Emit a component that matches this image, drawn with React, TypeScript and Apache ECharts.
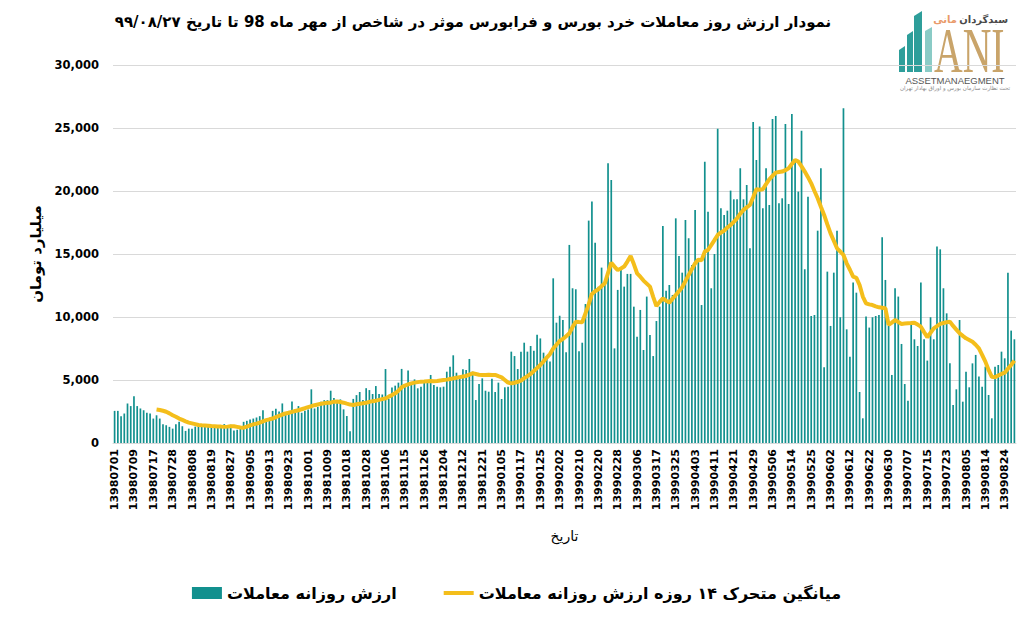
import React, { useEffect, useRef } from "react";
import * as echarts from "echarts";

const categories: string[] = [
  "13980701","13980702","13980703","13980706","13980707","13980708","13980709","13980710","13980713","13980714",
  "13980715","13980716","13980717","13980720","13980721","13980722","13980723","13980724","13980728","13980729",
  "13980730","13980801","13980804","13980806","13980808","13980811","13980812","13980813","13980814","13980818",
  "13980819","13980820","13980821","13980822","13980825","13980826","13980827","13980828","13980829","13980902",
  "13980903","13980904","13980905","13980906","13980909","13980910","13980911","13980912","13980913","13980916",
  "13980917","13980918","13980919","13980920","13980923","13980924","13980925","13980926","13980927","13980930",
  "13981001","13981002","13981003","13981004","13981007","13981008","13981009","13981010","13981011","13981014",
  "13981015","13981017","13981018","13981021","13981022","13981023","13981024","13981025","13981028","13981029",
  "13981030","13981101","13981102","13981105","13981106","13981107","13981108","13981109","13981112","13981114",
  "13981115","13981116","13981119","13981120","13981121","13981123","13981126","13981127","13981128","13981129",
  "13981130","13981203","13981204","13981205","13981206","13981207","13981210","13981211","13981212","13981213",
  "13981214","13981217","13981219","13981220","13981221","13981224","13981225","13981226","13981227","13981228",
  "13990105","13990106","13990109","13990110","13990111","13990116","13990117","13990118","13990119","13990120",
  "13990123","13990124","13990125","13990126","13990127","13990130","13990131","13990201","13990202","13990203",
  "13990206","13990207","13990208","13990209","13990210","13990213","13990214","13990215","13990216","13990217",
  "13990220","13990221","13990222","13990223","13990224","13990227","13990228","13990229","13990230","13990231",
  "13990303","13990305","13990306","13990307","13990310","13990311","13990312","13990313","13990317","13990318",
  "13990319","13990320","13990321","13990324","13990325","13990326","13990327","13990328","13990331","13990401",
  "13990403","13990404","13990407","13990408","13990409","13990410","13990411","13990414","13990415","13990416",
  "13990417","13990418","13990421","13990422","13990423","13990424","13990425","13990428","13990429","13990430",
  "13990431","13990501","13990504","13990505","13990506","13990507","13990508","13990511","13990512","13990513",
  "13990514","13990515","13990519","13990520","13990521","13990522","13990525","13990526","13990527","13990528",
  "13990529","13990601","13990602","13990603","13990604","13990605","13990610","13990611","13990612","13990615",
  "13990616","13990617","13990618","13990619","13990622","13990623","13990624","13990625","13990626","13990629",
  "13990630","13990631","13990701","13990702","13990705","13990706","13990707","13990708","13990709","13990712",
  "13990713","13990714","13990715","13990716","13990719","13990720","13990721","13990722","13990723","13990727",
  "13990728","13990729","13990730","13990803","13990805","13990806","13990807","13990810","13990811","13990812",
  "13990814","13990817","13990818","13990819","13990820","13990821","13990824","13990825","13990826","13990827",
];

// daily trading value (billion toman)
const dailyValue: number[] = [
  2550, 2550, 2130, 2340, 3140, 2930, 3720, 2930, 2740, 2600,
  2400, 2340, 1940, 2200, 1940, 1490, 1410, 1280, 1140, 1490,
  1680, 1330, 960, 1140, 1140, 1300, 1350, 1400, 1380, 1420,
  1350, 1400, 1300, 1420, 1500, 1380, 1450, 1000, 1050, 1350,
  1680, 1760, 1860, 1940, 2020, 2130, 2600, 1860, 1940, 2550,
  2710, 2500, 3140, 2290, 2550, 3300, 2660, 2930, 2400, 2550,
  2660, 4260, 2740, 2870, 3270, 3400, 3400, 4150, 3580, 3200,
  3460, 2670, 2140, 930, 3500, 3800, 4050, 3420, 4350, 4200,
  3890, 4520, 3890, 3850, 5870, 3500, 4400, 4550, 4790, 5880,
  4500, 5760, 4720, 5050, 4340, 4470, 4790, 5000, 5400, 4600,
  4470, 4420, 4470, 5660, 6060, 6960, 5580, 5320, 5850, 5790,
  6670, 5660, 3410, 4680, 5130, 4150, 4070, 5100, 4050, 4790,
  3490, 4420, 4470, 7250, 6900, 5870, 7250, 7960, 7250, 7700,
  7330, 8600, 8300, 7170, 6900, 6460, 13070, 9550, 10100, 9760,
  7200, 15720, 12280, 12200, 7280, 7960, 11030, 17650, 19160, 15900,
  12400, 13920, 12670, 22200, 20880, 7510, 12150, 13790, 12410, 13420,
  13420, 10820, 8440, 10560, 7380, 11620, 8570, 6900, 9680, 10820,
  17230, 12090, 12540, 11750, 17830, 14840, 13520, 17700, 16250, 14130,
  18500, 14530, 10950, 22330, 18360, 12280, 15000, 24950, 18630, 18100,
  18440, 20030, 19340, 19340, 21800, 19340, 20480, 15450, 25480, 22460,
  25110, 18630, 21800, 18890, 25720, 25960, 19020, 19420, 25320, 18970,
  26120, 22410, 19950, 24790, 13790, 19550, 10080, 10160, 16850, 21800,
  6010, 13600, 9290, 13520, 16850, 9980, 26570, 9020, 6850, 12730,
  11930, 4050, 1960, 10030, 9160, 9980, 10080, 10160, 16330, 12940,
  9290, 5400, 12280, 11620, 7860, 4680, 3360, 9630, 8230, 7700,
  12730, 8230, 6540, 9980, 8230, 15590, 15370, 12280, 10290, 6320,
  3020, 4260, 9760, 3280, 5660, 4420, 6320, 6990, 5270, 4470,
  6060, 3810, 1960, 6060, 6190, 7250, 6720, 13520, 8920, 8230,
];

// 14-day moving average
const movingAvg: (number | null)[] = [
  null, null, null, null, null, null, null, null, null, null,
  null, null, null, 2660, 2620, 2560, 2480, 2350, 2200, 2080,
  1940, 1830, 1720, 1620, 1560, 1500, 1430, 1400, 1380, 1360,
  1340, 1330, 1310, 1300, 1280, 1300, 1330, 1330, 1280, 1230,
  1220, 1300, 1400, 1480, 1540, 1620, 1720, 1810, 1880, 1940,
  2050, 2160, 2260, 2340, 2400, 2470, 2540, 2600, 2680, 2760,
  2850, 2920, 3000, 3060, 3110, 3160, 3190, 3200, 3280, 3300,
  3250, 3200, 3120, 3050, 3020, 3080, 3120, 3150, 3200, 3260,
  3320, 3360, 3420, 3480, 3540, 3680, 3800, 3940, 4150, 4420,
  4560, 4650, 4730, 4790, 4830, 4870, 4880, 4900, 4920, 4910,
  4920, 4960, 5000, 5030, 5080, 5130, 5180, 5230, 5280, 5320,
  5420, 5530, 5480, 5420, 5400, 5400, 5410, 5400, 5400, 5300,
  5210, 5000, 4790, 4730, 4780, 4860, 4950, 5150, 5300, 5480,
  5720, 5950, 6190, 6480, 6780, 7060, 7500, 7800, 8100, 8260,
  8480, 8700, 9200, 9630, 9600, 9580, 10290, 11000, 11830, 12050,
  12200, 12450, 12670, 13500, 14310, 14000, 13730, 13850, 14000, 14400,
  14840, 14200, 13470, 13200, 12890, 12650, 12410, 11600, 10870, 11200,
  11480, 11300, 11140, 11450, 11750, 12050, 12360, 12850, 13340, 13800,
  14260, 14550, 14500, 15190, 15320, 15700, 16100, 16510, 16700, 16850,
  17100, 17300, 17550, 17830, 18200, 18500, 18700, 18890, 19500, 20140,
  20100, 20140, 20550, 20930, 21200, 21460, 21500, 21540, 21650, 21800,
  22150, 22460, 22330, 21950, 21540, 21100, 20610, 20000, 19420, 18750,
  18100, 17350, 16640, 16050, 15450, 15200, 14920, 14260, 13750, 13200,
  13100, 12540, 11620, 11090, 11000, 10950, 10850, 10770, 10730, 10690,
  9370, 9550, 9760, 9600, 9450, 9480, 9500, 9520, 9550, 9400,
  9230, 8800, 8390, 8750, 9100, 9280, 9450, 9520, 9580, 9630,
  9290, 9000, 8710, 8500, 8310, 8180, 8040, 7800, 7510, 7000,
  6460, 5800, 5250, 5210, 5350, 5480, 5580, 5900, 6190, 6540,
];

const TITLE =
  "نمودار ارزش روز معاملات خرد بورس و فرابورس موثر در شاخص از مهر ماه 98 تا تاریخ ۹۹/۰۸/۲۷";
const BAR_NAME = "ارزش روزانه معاملات";
const LINE_NAME = "میانگین متحرک ۱۴ روزه ارزش روزانه معاملات";
const Y_NAME = "میلیارد تومان";
const X_NAME = "تاریخ";

const FA = '"DejaVu Sans", sans-serif';
const TEAL = "#12908E";
const YELLOW = "#F4BE1B";

export default function App() {
  const ref = useRef<HTMLDivElement>(null);
  useEffect(() => {
    if (!ref.current) return;
    const chart = echarts.init(ref.current, undefined, { renderer: "svg" });
    chart.setOption({
      animation: false,
      backgroundColor: "#fff",
      grid: { left: 113, right: 17, top: 65, bottom: 175 },
      xAxis: {
        type: "category",
        data: categories,
        boundaryGap: true,
        axisLine: { lineStyle: { color: "#D9D9D9" } },
        axisTick: { show: false },
        axisLabel: {
          interval: 5,
          rotate: 90,
          margin: 6,
          fontFamily: FA,
          fontWeight: "bold",
          fontSize: 11,
          color: "#000",
        },
        name: X_NAME,
        nameLocation: "middle",
        nameGap: 86,
        nameTextStyle: { fontFamily: FA, fontSize: 14, color: "#000" },
      },
      yAxis: {
        type: "value",
        min: 0,
        max: 30000,
        interval: 5000,
        axisLine: { show: false },
        axisTick: { show: false },
        axisLabel: {
          margin: 14,
          fontFamily: FA,
          fontWeight: "bold",
          fontSize: 11.5,
          color: "#000",
          formatter: (v: number) => v.toLocaleString("en-US"),
        },
        splitLine: { lineStyle: { color: "#D9D9D9" } },
        name: Y_NAME,
        nameLocation: "middle",
        nameRotate: 90,
        nameGap: 69,
        nameTextStyle: { fontFamily: FA, fontWeight: "bold", fontSize: 15, color: "#000" },
      },
      legend: {
        top: 580,
        left: "center",
        itemWidth: 30,
        itemHeight: 12,
        itemGap: 45,
        textStyle: { fontFamily: FA, fontWeight: "bold", fontSize: 16, color: "#000" },
        data: [
          { name: BAR_NAME, icon: "rect" },
          { name: LINE_NAME, itemStyle: { opacity: 0 }, lineStyle: { width: 4, color: YELLOW } },
        ],
      },
      series: [
        {
          name: BAR_NAME,
          type: "bar",
          data: dailyValue,
          barWidth: 1.7,
          itemStyle: { color: TEAL },
        },
        {
          name: LINE_NAME,
          type: "line",
          data: movingAvg,
          symbol: "none",
          lineStyle: { color: YELLOW, width: 4 },
          itemStyle: { color: YELLOW },
        },
      ],
      graphic: [
        {
          type: "text",
          x: 473,
          y: 22,
          style: {
            text: TITLE,
            font: 'bold 15px "DejaVu Sans", sans-serif',
            fill: "#000",
            align: "center",
            verticalAlign: "middle",
          },
        },
        {
          type: "group",
          z: 100,
          children: [
            { type: "rect", shape: { x: 915, y: 3, width: 118, height: 95 }, style: { fill: "#fff" } },
            { type: "polygon", shape: { points: [[899, 72], [899, 50], [905, 46], [905, 72]] }, style: { fill: "#2E9E9A" } },
            { type: "polygon", shape: { points: [[907, 72], [907, 35], [913, 31], [913, 72]] }, style: { fill: "#2E9E9A" } },
            { type: "polygon", shape: { points: [[914, 72], [914, 16], [922, 11], [922, 72]] }, style: { fill: "#2E9E9A" } },
            { type: "polygon", shape: { points: [[925, 72], [925, 31], [932, 27], [932, 72]] }, style: { fill: "#8ACBC6" } },
            {
              type: "text",
              x: 934,
              y: 51,
              scaleX: 0.62,
              style: {
                text: "ANI",
                font: '64px "Liberation Serif", serif',
                fill: "#C9A46A",
                align: "left",
                verticalAlign: "middle",
                lineHeight: 44,
              },
            },
            {
              type: "text",
              x: 1008,
              y: 19,
              style: { text: "سبدگردان", font: 'bold 10px "DejaVu Sans"', fill: "#4A4A4A", align: "right", verticalAlign: "middle" },
            },
            {
              type: "text",
              x: 957,
              y: 19,
              style: { text: "مانی", font: 'bold 10px "DejaVu Sans"', fill: "#E99A6A", align: "right", verticalAlign: "middle" },
            },
            {
              type: "text",
              x: 955,
              y: 80,
              style: { text: "ASSETMANAEGMENT", font: '9.5px "Liberation Sans"', fill: "#555", align: "center", verticalAlign: "middle" },
            },
            {
              type: "text",
              x: 955,
              y: 88,
              style: { text: "تحت نظارت سازمان بورس و اوراق بهادار تهران", font: '5.5px "DejaVu Sans"', fill: "#888", align: "center", verticalAlign: "middle" },
            },
          ],
        },
      ],
    });
    return () => chart.dispose();
  }, []);
  return (
    <div
      ref={ref}
      style={{ position: "absolute", left: 0, top: 0, width: 1033, height: 618 }}
    />
  );
}
